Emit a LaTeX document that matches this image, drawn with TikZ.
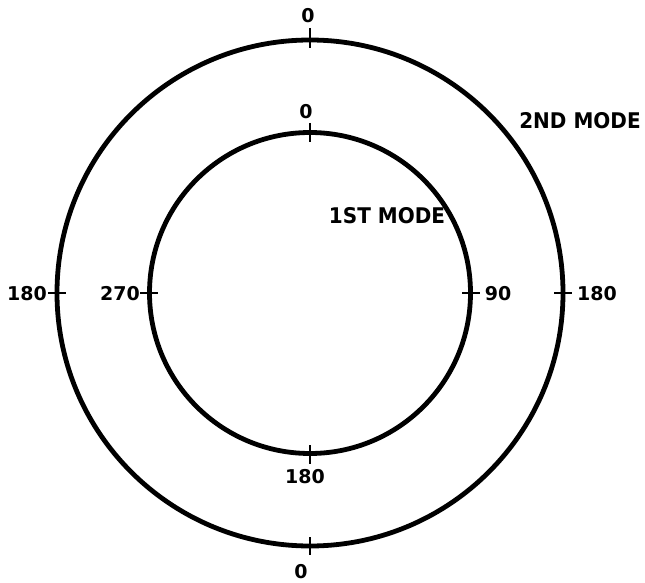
\documentclass[tikz,border=0pt]{standalone}
\usepackage{fontspec}
\setmainfont{DejaVu Sans}
\begin{document}
\begin{tikzpicture}[x=1pt,y=-1pt,
  ring/.style={draw=black,line width=4.8pt},
  tick/.style={draw=black,line width=2.8pt},
  lbl/.style={font=\bfseries\fontsize{19}{19}\selectfont,inner sep=0pt},
  mode/.style={font=\bfseries\fontsize{20}{20}\selectfont,inner sep=0pt,yscale=1.08}]
\useasboundingbox (0,0) rectangle (645,583);
\coordinate (c) at (310,293);
\node[ring,circle,minimum size=506pt,inner sep=0pt] (outer) at (c) {};
\node[ring,circle,minimum size=321pt,inner sep=0pt] (inner) at (c) {};
% ticks on outer
\coordinate (ot1) at (310,28); \coordinate (ot2) at (310,48);
\coordinate (ob1) at (310,537); \coordinate (ob2) at (310,555);
\coordinate (ol1) at (48,293); \coordinate (ol2) at (66,293);
\coordinate (or1) at (554,293); \coordinate (or2) at (572,293);
\draw[tick] (ot1) -- (ot2); \draw[tick] (ob1) -- (ob2);
\draw[tick] (ol1) -- (ol2); \draw[tick] (or1) -- (or2);
% ticks on inner
\coordinate (it1) at (310,123); \coordinate (it2) at (310,142);
\coordinate (ib1) at (310,445); \coordinate (ib2) at (310,464);
\coordinate (il1) at (140,293); \coordinate (il2) at (158,293);
\coordinate (ir1) at (462,293); \coordinate (ir2) at (480,293);
\draw[tick] (it1) -- (it2); \draw[tick] (ib1) -- (ib2);
\draw[tick] (il1) -- (il2); \draw[tick] (ir1) -- (ir2);
% labels
\node[lbl] (l1) at (308,16) {0};
\node[lbl] (l2) at (306,112) {0};
\node[lbl] (l3) at (27,294) {180};
\node[lbl] (l4) at (120,294) {270};
\node[lbl] (l5) at (498,294) {90};
\node[lbl] (l6) at (597,294) {180};
\node[lbl] (l7) at (305,477) {180};
\node[lbl] (l8) at (301,572) {0};
\node[mode] (m1) at (387,216) {1ST MODE};
\node[mode] (m2) at (580,121) {2ND MODE};
\end{tikzpicture}
\end{document}
